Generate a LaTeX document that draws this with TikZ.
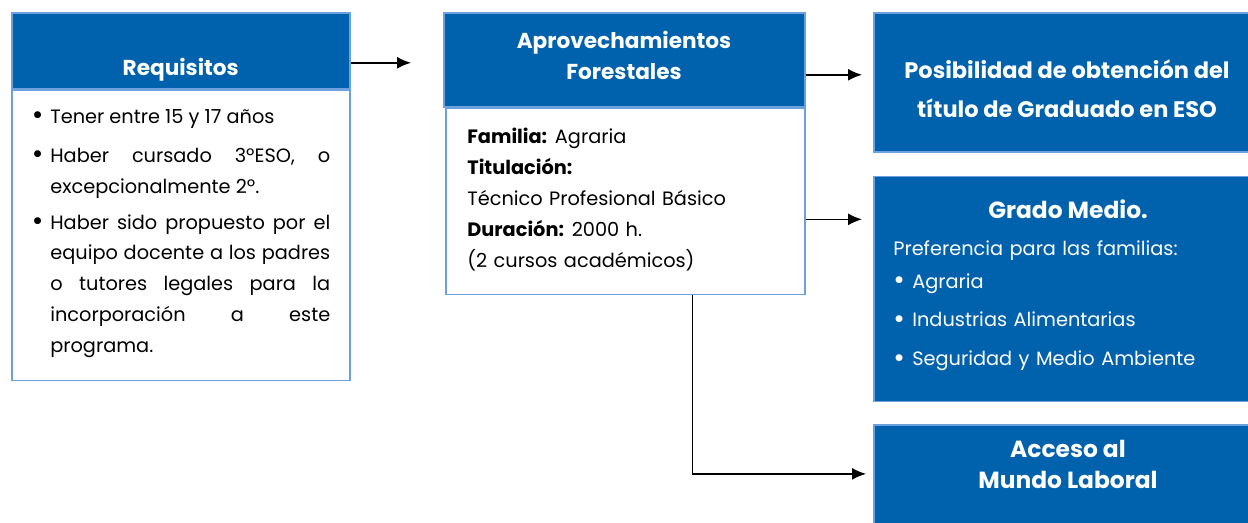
\documentclass[tikz,border=0pt]{standalone}
\usepackage{fontspec}
\setmainfont{Poppins}
\usepackage{enumitem}
\usetikzlibrary{positioning,arrows.meta}
\definecolor{boxblue}{HTML}{0061AD}
\definecolor{edgeblue}{HTML}{6CA0DE}
\newcommand{\blt}{\raisebox{-0.12ex}{\scalebox{1.45}{\textbullet}}}

\begin{document}
\begin{tikzpicture}[x=0.02cm, y=-0.02cm, >={Latex[length=0.28cm,width=0.24cm]}]
  %define block styles
  \tikzset{
    headbox/.style={rectangle, draw=edgeblue, line width=0.9pt, fill=boxblue, inner sep=0pt},
    bodybox/.style={rectangle, draw=edgeblue, line width=0.9pt, fill=white, inner sep=0pt},
    headtext/.style={text=white, inner sep=0pt, font=\fontsize{12.3}{17.6}\selectfont\bfseries, align=center},
    bigtext/.style={headtext, font=\fontsize{13.3}{17.6}\selectfont\bfseries},
    bodytext/.style={text=black, inner sep=0pt, font=\fontsize{11}{17.6}\selectfont, align=left},
    arrow/.style={line width=0.85pt, ->},
  }
  \useasboundingbox (0,0) rectangle (1248,522);
  \clip (0,0) rectangle (1248,522);
  %define nodes
  \node[headbox, minimum width=6.76cm, minimum height=1.52cm, anchor=north west] (reqhead) at (11,12) {};
  \node[bodybox, minimum width=6.76cm, minimum height=5.8cm, below=0pt of reqhead] (reqbody) {};
  \node[headtext] (reqtitle) at ([yshift=0.4cm]reqhead.south) {Requisitos};
  \node[bodytext, align=justify, text width=5.94cm, anchor=north west] (reqlist) at (33,92) {%
    \begin{itemize}[label=\blt, leftmargin=0.34cm, labelsep=0.14cm, topsep=0pt, partopsep=0pt, parsep=0pt, itemsep=0.1cm]
      \item Tener entre 15 y 17 años\vspace{0.06cm}
      \item Haber cursado 3ºESO, o\linebreak excepcionalmente 2º.
      \item Haber sido propuesto por el\linebreak equipo docente a los padres\linebreak o tutores legales para la\linebreak incorporación a este\linebreak programa.
    \end{itemize}};

  \node[headbox, minimum width=7.22cm, minimum height=1.88cm, anchor=north west] (aprovhead) at (443,12) {};
  \node[headtext] (aprovtitle) at (624,55) {Aprovechamientos\\Forestales};
  \node[bodybox, minimum width=7.18cm, minimum height=3.72cm, anchor=north east] (aprovbody) at (aprovhead.south east) {};
  \node[bodytext, text width=6.6cm, anchor=north west] (aprovlist) at (467,128) {%
    \textbf{Familia:}\hspace{-0.1em} Agraria\\
    \textbf{Titulación:}\\
    Técnico Profesional Básico\\
    \textbf{Duración:}\hspace{-0.1em} 2000 h.\\
    (2 cursos académicos)};

  \node[headbox, minimum width=7.76cm, minimum height=2.78cm, anchor=north west] (posib) at (873,12) {};
  \node[bigtext, font=\fontsize{12.8}{17.6}\selectfont\bfseries] (posibtitle) at (1067,89) {Posibilidad de obtención del\\[0.16cm]título de Graduado en ESO};
  \node[headbox, minimum width=7.76cm, minimum height=4.5cm, below=0.46cm of posib] (grado) {};
  \node[bigtext] (gradotitle) at (1068,209) {Grado Medio.};
  \node[bodytext, text=white, text width=7cm, anchor=north west] (gradolist) at (893,240) {%
    Preferencia para las familias:\\[0.04cm]
    \makebox[0.38cm][l]{\blt}Agraria\\[0.16cm]
    \makebox[0.38cm][l]{\blt}Industrias Alimentarias\\[0.16cm]
    \makebox[0.38cm][l]{\blt}Seguridad y Medio Ambiente};
  \node[headbox, minimum width=7.76cm, minimum height=2.18cm, below=0.44cm of grado] (laboral) {};
  \node[bigtext] (laboraltitle) at (1068,464) {Acceso al\\Mundo Laboral};

  %define arrows
  \draw[arrow, shorten >=0.64cm] ([yshift=-0.24cm]reqhead.east) -- ([yshift=-0.24cm]reqhead.east -| aprovhead.west);
  \draw[arrow, shorten >=0.22cm] ([yshift=-0.3cm]aprovhead.east) -- ([yshift=-0.3cm]aprovhead.east -| posib.west);
  \draw[arrow, shorten >=0.22cm] ([yshift=-0.36cm]aprovbody.east) -- ([yshift=-0.36cm]aprovbody.east -| grado.west);
  \draw[arrow, shorten >=0.14cm] ([xshift=1.35cm]aprovbody.south) |- ([yshift=0.11cm]laboral.west);
\end{tikzpicture}
\end{document}
